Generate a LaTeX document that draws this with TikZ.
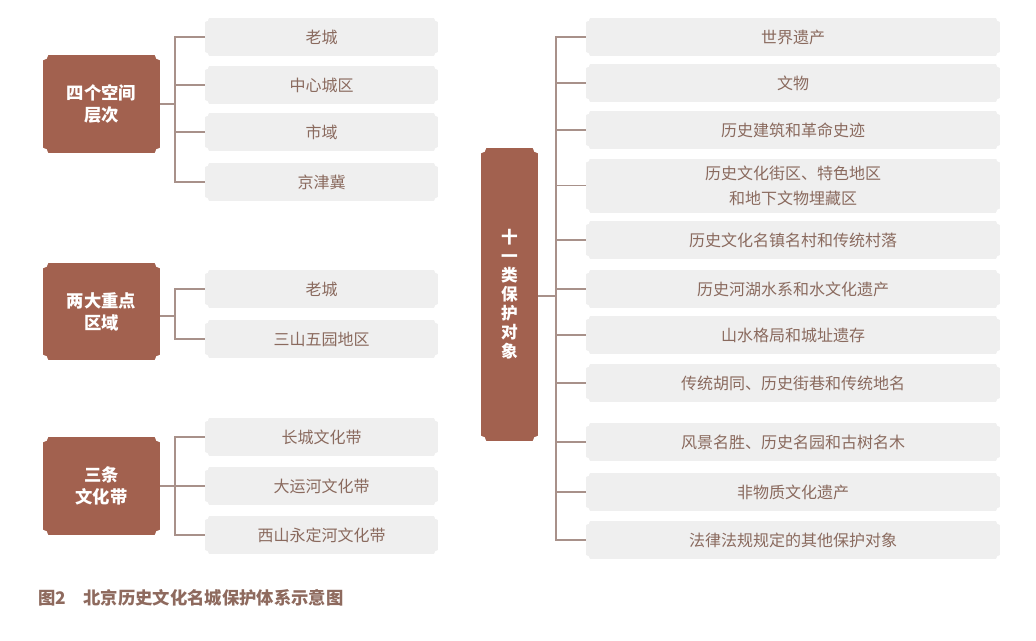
\documentclass[tikz,border=0pt]{standalone}
\usepackage{fontspec}
\setmainfont{Noto Sans CJK SC}
\definecolor{brn}{HTML}{A2614F}
\definecolor{gbox}{HTML}{EFEFEF}
\definecolor{gtxt}{HTML}{8A6A5E}
\definecolor{lnc}{HTML}{A8918A}
\definecolor{capc}{HTML}{8E6A5E}
\tikzset{
  head/.style={fill=brn, text=white, font=\bfseries\fontsize{13}{16.5}\selectfont, align=center, inner sep=0pt},
  item/.style={fill=gbox, text=gtxt, font=\fontsize{12}{18.75}\selectfont, align=center, inner sep=0pt, minimum height=28.5pt},
  litem/.style={item, minimum width=174.75pt},
  ritem/.style={item, minimum width=310.5pt},
  conn/.style={draw=lnc, line width=0.9pt},
  notchA/.style={fill=white},
}
\begin{document}
\begin{tikzpicture}[x=0.75pt,y=-0.75pt]
\useasboundingbox (0,0) rectangle (1036,640);
% heads
\node[head, minimum width=87.75pt, minimum height=73.5pt] (A) at (101.5,104) {四个空间\\层次};
\node[head, minimum width=87.75pt, minimum height=72.75pt] (B) at (101.5,311.5) {两大重点\\区域};
\node[head, minimum width=87.75pt, minimum height=73.5pt] (C) at (101.5,486) {三条\\文化带};
\node[head, minimum width=42.75pt, minimum height=219.75pt, font=\bfseries\fontsize{12.5}{14.25}\selectfont] (R) at (509.5,294.5) {十\\一\\类\\保\\护\\对\\象};
% left items
\node[litem] (a1) at (321.5,37) {老城};
\node[litem] (a2) at (321.5,85) {中心城区};
\node[litem] (a3) at (321.5,132) {市域};
\node[litem] (a4) at (321.5,182) {京津冀};
\node[litem] (b1) at (321.5,289) {老城};
\node[litem] (b2) at (321.5,339) {三山五园地区};
\node[litem] (c1) at (321.5,437) {长城文化带};
\node[litem] (c2) at (321.5,486) {大运河文化带};
\node[litem] (c3) at (321.5,535) {西山永定河文化带};
% right items
\node[ritem] (r1) at (793,37) {世界遗产};
\node[ritem] (r2) at (793,83) {文物};
\node[ritem] (r3) at (793,130) {历史建筑和革命史迹};
\node[ritem, minimum height=40.5pt] (r4) at (793,185.5) {历史文化街区、特色地区\\和地下文物埋藏区};
\node[ritem] (r5) at (793,240) {历史文化名镇名村和传统村落};
\node[ritem] (r6) at (793,289) {历史河湖水系和水文化遗产};
\node[ritem] (r7) at (793,335) {山水格局和城址遗存};
\node[ritem] (r8) at (793,383) {传统胡同、历史街巷和传统地名};
\node[ritem] (r9) at (793,442) {风景名胜、历史名园和古树名木};
\node[ritem] (r10) at (793,492) {非物质文化遗产};
\node[ritem] (r11) at (793,540) {法律法规规定的其他保护对象};
% notches
\foreach \n in {A,B,C,R}{
  \foreach \c in {north west,north east,south west,south east}{
    \fill[white] (\n.\c) circle[radius=4.2pt];
  }
}
\foreach \n in {a1,a2,a3,a4,b1,b2,c1,c2,c3,r1,r2,r3,r4,r5,r6,r7,r8,r9,r10,r11}{
  \foreach \c in {north west,north east,south west,south east}{
    \fill[white] (\n.\c) circle[radius=3.2pt];
  }
}
% junctions
\coordinate (jA) at (175,104);
\coordinate (jB) at (175,316);
\coordinate (jC) at (175,486);
\coordinate (jR) at (556,296);
% connectors group A
\draw[conn] (A.east |- jA) -- (jA);
\draw[conn] (a1.west) -- (a1.west -| jA) -- (a4.west -| jA) -- (a4.west);
\draw[conn] (a2.west) -- (a2.west -| jA);
\draw[conn] (a3.west) -- (a3.west -| jA);
% group B
\draw[conn] (B.east |- jB) -- (jB);
\draw[conn] (b1.west) -- (b1.west -| jB) -- (b2.west -| jB) -- (b2.west);
% group C
\draw[conn] (C.east |- jC) -- (jC);
\draw[conn] (c1.west) -- (c1.west -| jC) -- (c3.west -| jC) -- (c3.west);
\draw[conn] (c2.west) -- (c2.west -| jC);
% right group
\draw[conn] (R.east |- jR) -- (jR);
\draw[conn] (r1.west) -- (r1.west -| jR) -- (r11.west -| jR) -- (r11.west);
\foreach \n in {r2,r3,r4,r5,r6,r7,r8,r9,r10}{
  \draw[conn] (\n.west) -- (\n.west -| jR);
}
% caption
\node[anchor=west, inner sep=0pt, text=capc, font=\bfseries\fontsize{13}{15}\selectfont] (cap) at (38,598) {图2\hspace{1em}北京历史文化名城保护体系示意图};
\end{tikzpicture}
\end{document}
